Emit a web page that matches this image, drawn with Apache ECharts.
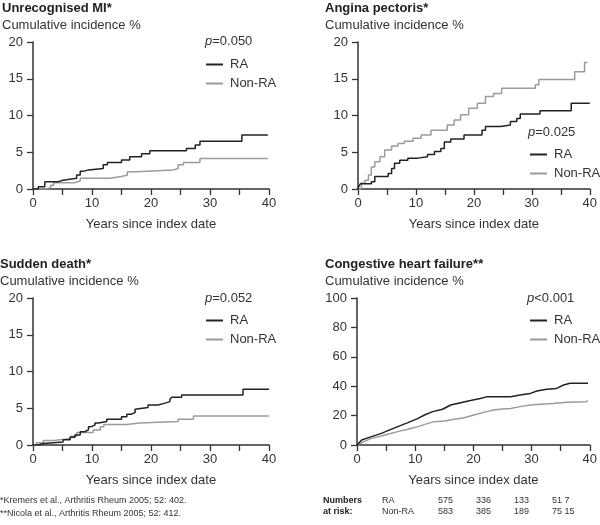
<!DOCTYPE html>
<html>
<head>
<meta charset="utf-8">
<script src="https://cdn.jsdelivr.net/npm/echarts@6/dist/echarts.min.js"></script>
<style>html,body{margin:0;padding:0;background:#fff;}#c{width:600px;height:525px;}</style>
</head>
<body>
<div id="c"></div>
<script>
// ---- data: [years, cumulative incidence %] ----
const miRA = [[0,0],[0.9,0.3],[2.0,1.0],[4.3,1.2],[5.1,1.45],[7.4,1.9],[8.0,2.4],[8.5,2.6],[9.4,2.8],[11.9,3.3],[12.6,3.6],[15.0,3.95],[16.4,4.4],[18.4,4.8],[19.8,5.2],[26.0,5.5],[27.5,6.0],[28.3,6.5],[35.4,7.35],[39.8,7.35]];
const miNon = [[0,0],[2.2,0.2],[3.0,0.5],[3.5,0.85],[7.0,1.1],[8.0,1.45],[13.0,1.7],[15.0,1.9],[16.0,2.35],[17.6,2.6],[23.8,2.8],[24.6,3.3],[25.5,3.6],[28.3,4.15],[39.8,4.15]];
const apRA = [[0,0],[0.1,0.3],[0.4,0.7],[2.3,1.0],[2.9,1.7],[5.2,2.1],[5.8,2.8],[6.3,3.5],[7.2,3.9],[8.6,4.2],[10.3,4.4],[12.0,4.7],[13.2,5.1],[14.3,5.5],[14.9,6.4],[16.0,6.8],[18.3,7.35],[21.4,8.0],[22.0,8.5],[24.6,8.7],[26.3,9.2],[27.4,9.6],[28.0,10.2],[31.4,10.65],[36.8,11.65],[40,11.65]];
const apNon = [[0,0],[0.6,0.8],[1.2,1.2],[1.8,1.9],[2.3,3.0],[2.9,3.7],[3.8,4.4],[4.6,5.3],[5.8,5.85],[6.9,6.2],[8.0,6.5],[9.5,6.9],[10.9,7.35],[12.6,8.0],[15.4,8.7],[16.6,9.4],[17.7,10.1],[19.1,11.0],[20.6,11.65],[22.0,12.6],[23.4,13.0],[24.8,13.7],[30.6,14.2],[31.2,14.9],[37.4,15.95],[39.1,17.2],[39.6,17.2]];
const sdRA = [[0,0],[0.9,0.2],[1.75,0.4],[5.1,0.7],[6.3,1.05],[7.1,1.35],[8.0,1.8],[8.8,2.05],[9.4,2.5],[9.9,2.7],[10.5,3.0],[11.1,3.2],[12.5,3.5],[15.0,3.85],[15.9,4.2],[16.7,4.4],[17.3,4.85],[17.6,5.1],[19.5,5.45],[21.2,5.7],[22.4,5.9],[23.2,6.2],[23.5,6.5],[25.2,6.8],[35.6,7.6],[40,7.6]];
const sdNon = [[0,0],[0.6,0.3],[1.75,0.6],[3.5,0.8],[5.4,0.9],[6.3,1.2],[7.4,1.7],[10.2,2.05],[11.4,2.5],[12.0,2.8],[15.9,3.0],[18.1,3.2],[24.6,3.5],[27.2,3.95],[40,3.95]];
const chfRA = [[0,0],[0.8,3.4],[2.5,5.7],[4.2,7.9],[5.3,9.8],[7.0,12.5],[8.75,15.2],[10.5,18.1],[11.6,20.4],[13.0,22.7],[14.7,24.3],[16.1,27.2],[17.8,28.8],[19.5,30.2],[21.2,31.7],[22.4,32.9],[26.4,32.9],[28.0,34.0],[29.8,35.1],[30.9,36.7],[32.6,37.9],[34.3,38.5],[35.5,40.8],[36.6,42.0],[39.7,42.0]];
const chfNon = [[0,0],[0.8,1.6],[2.5,4.5],[4.2,6.1],[5.3,7.3],[7.0,9.1],[8.75,10.7],[10.5,12.5],[12.2,14.7],[13.3,15.9],[15.0,16.3],[16.7,17.5],[18.4,18.6],[20.1,20.4],[21.8,22.2],[23.5,23.8],[24.9,24.5],[26.4,24.9],[28.0,26.1],[29.8,27.2],[31.5,27.7],[33.7,28.3],[36.0,29.0],[39.4,29.5],[39.7,30.2]];

const panelTitles = ['Unrecognised MI*','Angina pectoris*','Sudden death*','Congestive heart failure**'];
const yTitle = 'Cumulative incidence %';
const xTitle = 'Years since index date';
const pValues = ['=0.050','=0.025','=0.052','<0.001'];
const yMax = [20,20,20,100];
const yStep = [5,5,5,20];
const groupNames = ['RA','Non-RA'];
const riskRA = ['575','336','133','51 7'];
const riskNon = ['583','385','189','75 15'];
const footnotes = ['*Kremers et al., Arthritis Rheum 2005; 52: 402.','**Nicola et al., Arthritis Rheum 2005; 52: 412.'];

// ---- layout ----
const FONT = 'Liberation Sans, Arial, Helvetica, sans-serif';
const DARK = '#222222', GRAY = '#9b9b9b', AX = '#333333';
const grids = [
  {left:33, top:42, width:236, height:147},
  {left:358, top:42, width:234, height:147},
  {left:33, top:298, width:236, height:147},
  {left:357, top:298, width:235, height:147}
];
const titlePos = [[2,2],[325,2],[0,258],[325,258]];
const pPos = [[205,42],[528,133],[205,299],[527,299]];
const legPos = [[206,58],[530,148],[206,314],[530,314]];

const curves = [[miRA,miNon],[apRA,apNon],[sdRA,sdNon],[chfRA,chfNon]];

const axisCommon = {
  axisLine:{show:true, lineStyle:{color:AX, width:1.5}},
  axisTick:{show:true, length:6, lineStyle:{color:AX, width:1.3}},
  splitLine:{show:false},
  axisLabel:{color:AX, fontSize:13, fontFamily:FONT}
};

const option = {
  animation:false,
  backgroundColor:'#fff',
  title: panelTitles.map((t,i)=>({
    text:t, subtext:yTitle, left:titlePos[i][0], top:titlePos[i][1], padding:0, itemGap:4,
    textStyle:{fontSize:13, fontWeight:'bold', color:DARK, fontFamily:FONT},
    subtextStyle:{fontSize:13, color:AX, fontFamily:FONT}
  })),
  grid: grids,
  xAxis: grids.map((g,i)=>Object.assign({}, axisCommon, {
    type:'value', gridIndex:i, min:0, max:40, interval:5,
    name:xTitle, nameLocation:'middle', nameGap:29,
    nameTextStyle:{fontSize:13, color:AX, fontFamily:FONT},
    axisLabel:Object.assign({}, axisCommon.axisLabel, {margin:8, formatter:v=> v%10===0 ? String(v) : ''})
  })),
  yAxis: grids.map((g,i)=>Object.assign({}, axisCommon, {
    type:'value', gridIndex:i, min:0, max:yMax[i], interval:yStep[i],
    axisLabel:Object.assign({}, axisCommon.axisLabel, {margin:10})
  })),
  legend: legPos.map(p=>({
    data:groupNames, orient:'vertical', left:p[0], top:p[1], padding:0, itemGap:6,
    itemWidth:17, itemHeight:2, icon:'rect', selectedMode:false,
    textStyle:{fontSize:13, color:AX, fontFamily:FONT, padding:[0,0,0,2]}
  })),
  series: [],
  graphic: []
};

curves.forEach((pair,i)=>{
  pair.forEach((d,k)=>{
    const col = k===0 ? DARK : GRAY;
    option.series.push({
      type:'line', name:groupNames[k], xAxisIndex:i, yAxisIndex:i, data:d,
      step: i===3 ? false : 'end', showSymbol:false, symbol:'none',
      lineStyle:{color:col, width:1.5}, itemStyle:{color:col}, z: k===0 ? 3 : 2
    });
  });
  option.graphic.push({
    type:'text', left:pPos[i][0], top:pPos[i][1]-7,
    style:{text:'{i|p}'+pValues[i], fill:AX, fontSize:13, fontFamily:FONT,
      rich:{i:{fontStyle:'italic', fontSize:13, fontFamily:FONT, fill:AX}}}
  });
});

// footnotes
footnotes.forEach((t,j)=>{
  option.graphic.push({type:'text', left:0, top:496+j*13, style:{text:t, fill:AX, fontSize:9, fontFamily:FONT}});
});
// numbers at risk
const rowTop = [496,507];
option.graphic.push({type:'text', left:323, top:rowTop[0], style:{text:'Numbers', fill:DARK, fontSize:9, fontWeight:'bold', fontFamily:FONT}});
option.graphic.push({type:'text', left:323, top:rowTop[1], style:{text:'at risk:', fill:DARK, fontSize:9, fontWeight:'bold', fontFamily:FONT}});
option.graphic.push({type:'text', left:382, top:rowTop[0], style:{text:groupNames[0], fill:AX, fontSize:9, fontFamily:FONT}});
option.graphic.push({type:'text', left:382, top:rowTop[1], style:{text:groupNames[1], fill:AX, fontSize:9, fontFamily:FONT}});
const riskX = [438,476,514,552];
riskRA.forEach((v,j)=>option.graphic.push({type:'text', left:riskX[j], top:rowTop[0], style:{text:v, fill:AX, fontSize:9, fontFamily:FONT}}));
riskNon.forEach((v,j)=>option.graphic.push({type:'text', left:riskX[j], top:rowTop[1], style:{text:v, fill:AX, fontSize:9, fontFamily:FONT}}));

const chart = echarts.init(document.getElementById('c'), null, {renderer:'canvas'});
chart.setOption(option);
</script>
</body>
</html>
